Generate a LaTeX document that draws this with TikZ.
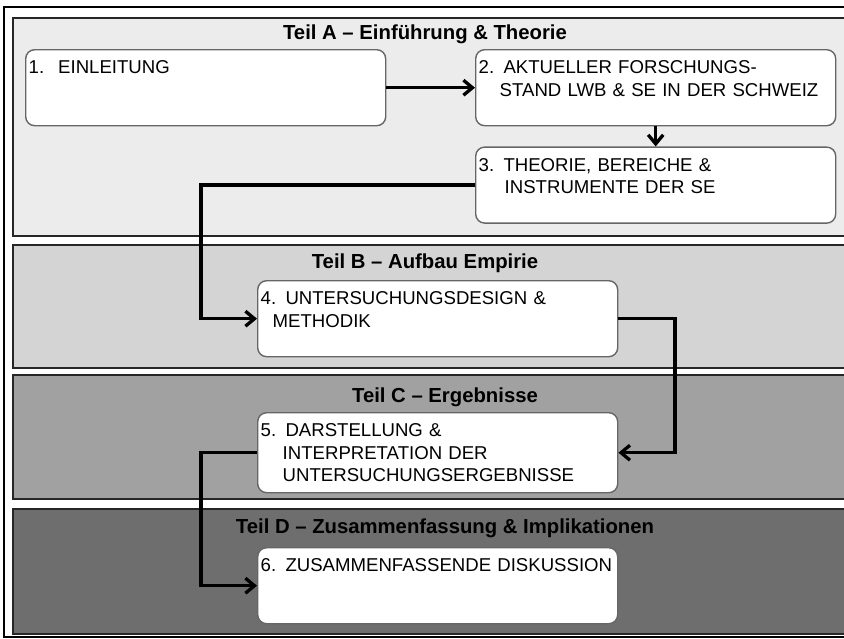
\documentclass[tikz,border=0pt]{standalone}
\usepackage{fontspec}
\setmainfont{Liberation Sans}
\usetikzlibrary{positioning,arrows.meta}

\definecolor{grayA}{gray}{0.925}
\definecolor{grayB}{gray}{0.83}
\definecolor{grayC}{gray}{0.63}
\definecolor{grayD}{gray}{0.43}

\begin{document}
\begin{tikzpicture}[x=1pt,y=-1pt,node distance=20pt]
        \tikzstyle{panel} = [draw=black!85, line width=2.2pt]
        \tikzstyle{roundrect} = [rectangle, rounded corners=9pt, draw=black!60, line width=1.4pt, fill=white, anchor=north west, text width=354pt, align=left, inner xsep=3pt, inner ysep=11pt, text height=13pt, text depth=41pt, font=\fontsize{18.6}{22.5}\selectfont]
        \tikzstyle{title} = [anchor=base, font=\bfseries\fontsize{20.3}{22}\selectfont]
        \tikzstyle{arrow} = [line width=3.3pt,-{Straight Barb[length=9pt,width=15pt]}]

        \useasboundingbox (0,0) rectangle (844,638);
        \fill [white] (0,0) rectangle (844,638);
        \draw [line width=2pt] (4,7) rectangle (870,637);

        % the four parts
        \filldraw [panel, fill=grayA] (13,18) rectangle (870,236);
        \filldraw [panel, fill=grayB] (13,245) rectangle (870,368);
        \filldraw [panel, fill=grayC] (13,375) rectangle (870,499);
        \filldraw [panel, fill=grayD] (13,509) rectangle (870,634);

        \node (titleA) [title] at (425,39) {Teil A -- Einführung \& Theorie};
        \node (titleB) [title] at (425,268) {Teil B -- Aufbau Empirie};
        \node (titleC) [title] at (445,402) {Teil C -- Ergebnisse};
        \node (titleD) [title] at (445,533) {Teil D -- Zusammenfassung \& Implikationen};

        % chapters
        \node (node1) [roundrect] at (25,49) {1.\hspace{14pt}EINLEITUNG};
        \node (node2) [roundrect] at (475,49) {2. AKTUELLER FORSCHUNGS-\\\hspace*{21pt}STAND LWB \& SE IN DER SCHWEIZ};
        \node (node3) [roundrect, below=of node2.south west, anchor=north west] {3. THEORIE, BEREICHE \&\\\hspace*{26pt}INSTRUMENTE DER SE};
        \node (node4) [roundrect] at (257,280) {4. UNTERSUCHUNGSDESIGN \&\\\hspace*{12pt}METHODIK};
        \node (node5) [roundrect, text depth=45pt] at (257,412) {5. DARSTELLUNG \&\\\hspace*{22pt}INTERPRETATION DER\\\hspace*{22pt}UNTERSUCHUNGSERGEBNISSE};
        \node (node6) [roundrect] at (257,547) {6. ZUSAMMENFASSENDE DISKUSSION};

        \coordinate (bendL) at (201,0);
        \coordinate (bendR) at (675,0);

        \draw [arrow] (node1) -- (node2);
        \draw [arrow] (node2) -- (node3);
        \draw [arrow] (node3.west) -- (node3.west -| bendL) |- (node4.west);
        \draw [arrow] (node4.east) -- (node4.east -| bendR) |- (node5.east);
        \draw [arrow] (node5.west) -- (node5.west -| bendL) |- (node6.west);
    \end{tikzpicture}
\end{document}
